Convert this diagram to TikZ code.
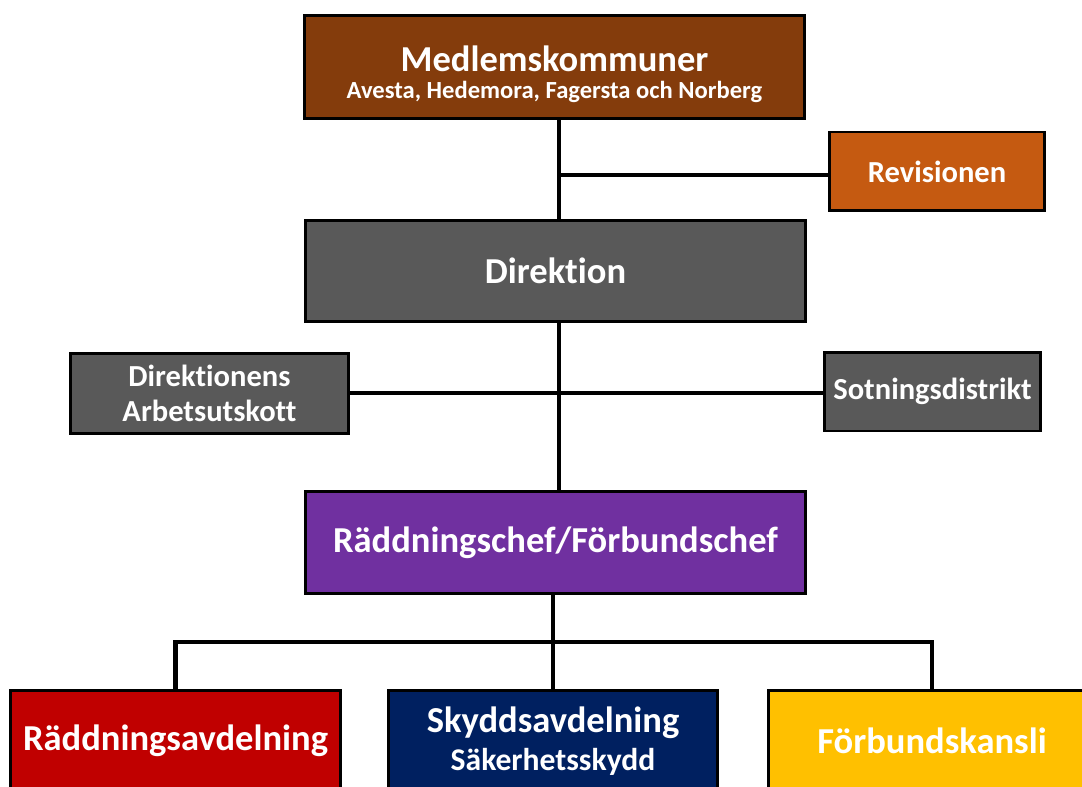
\documentclass[tikz,border=0pt]{standalone}
\usepackage{fontspec}
\setmainfont[Ligatures=NoCommon]{Carlito}
\definecolor{medlembrown}{RGB}{132,60,12}
\definecolor{revorange}{RGB}{197,90,17}
\definecolor{dirgray}{RGB}{89,89,89}
\definecolor{chefpurple}{RGB}{112,48,160}
\definecolor{raddred}{RGB}{192,0,0}
\definecolor{skyddnavy}{RGB}{0,32,96}
\definecolor{kansliyellow}{RGB}{255,192,0}

\begin{document}
\begin{tikzpicture}[x=0.02cm,y=-0.02cm,
    box/.style={draw=black,line width=1.7pt,text=white,align=center,inner sep=0pt,
        font=\bfseries\fontsize{20.8}{24}\selectfont},
    smallbox/.style={box,font=\bfseries\fontsize{17.4}{20}\selectfont},
    link/.style={draw=black,line width=2.3pt}]
    \useasboundingbox (0,0) rectangle (1082,787);
    \clip (0,0) rectangle (1082,787);
    % top level
    \node[box,fill=medlembrown,minimum width=10.02cm,minimum height=2.08cm] (medlem) at (554.5,67)
    {\rule{0pt}{23pt}Medlemskommuner\\[-8.3pt]{\fontsize{14}{12.5}\selectfont Avesta, Hedemora, Fagersta och Norberg}};
    \node[smallbox,fill=revorange,minimum width=4.32cm,minimum height=1.58cm] (revision) at (937,171.5) {Revisionen};
    \node[box,fill=dirgray,minimum width=10.02cm,minimum height=2.04cm] (direktion) at (555.5,271) {Direktion};
    \node[smallbox,fill=dirgray,minimum width=5.58cm,minimum height=1.62cm] (utskott) at (209.5,393.5)
    {Direktionens\\Arbetsutskott};
    \node[smallbox,fill=dirgray,minimum width=4.34cm,minimum height=1.58cm] (sotning) at (932.5,391.5) {Sotningsdistrikt};
    \node[box,fill=chefpurple,minimum width=10.02cm,minimum height=2.04cm] (chef) at (555.5,542.5) {Räddningschef/Förbundschef};
    % avdelningar
    \node[box,fill=raddred,minimum width=6.62cm,minimum height=2.04cm] (radd) at (175.5,741) {Räddningsavdelning};
    \node[box,fill=skyddnavy,minimum width=6.6cm,minimum height=2.04cm] (skydd) at (553,741)
    {Skyddsavdelning\\[-2pt]{\fontsize{18}{20}\selectfont Säkerhetsskydd}};
    \node[box,fill=kansliyellow,minimum width=6.56cm,minimum height=2.04cm] (kansli) at (932,741) {Förbundskansli};
    % connectors
    \coordinate (j1) at (559,175);
    \coordinate (j2) at (559,393);
    \coordinate (j3) at (553,642);
    \draw[link](medlem.south -| j1)--(direktion.north -| j1);
    \draw[link](j1)--(j1 -| revision.west);
    \draw[link](direktion.south -| j2)--(chef.north -| j2);
    \draw[link](utskott.east |- j2)--(sotning.west |- j2);
    \draw[link](chef.south -| j3)--(skydd.north -| j3);
    \draw[link](radd.north)|-(j3)-|(kansli.north);
\end{tikzpicture}
\end{document}
